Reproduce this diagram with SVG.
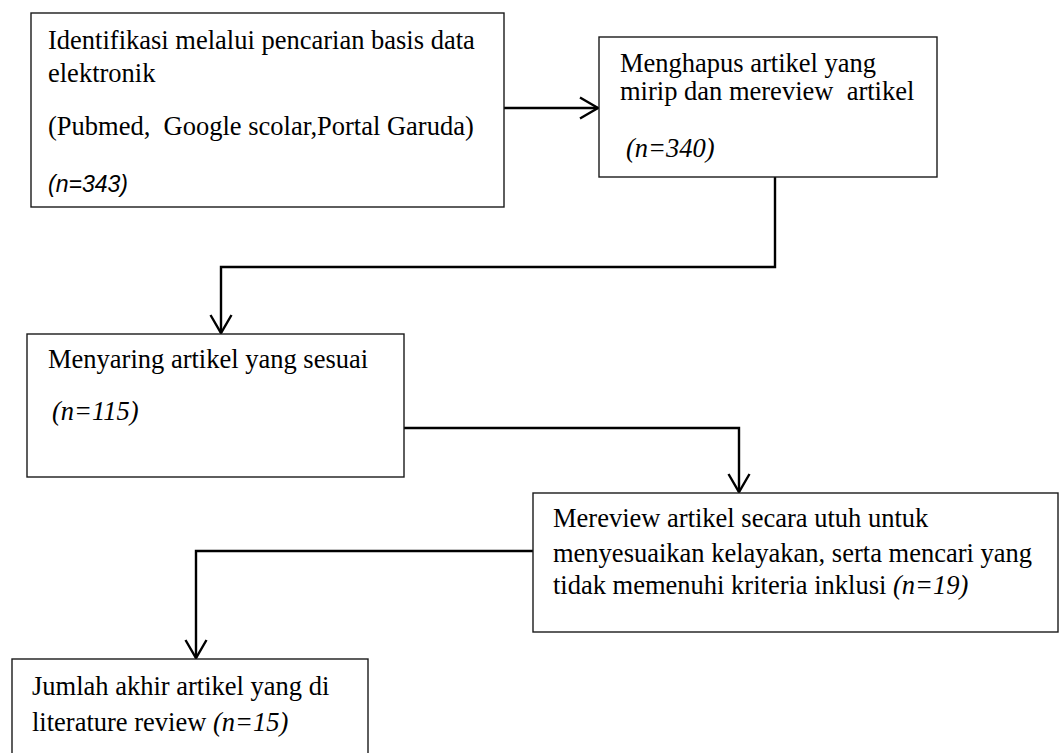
<svg xmlns="http://www.w3.org/2000/svg" width="1059" height="753" viewBox="0 0 1059 753">
<defs>
<style>
.box{fill:#fff;stroke:#1a1a1a;stroke-width:1.4}
.t{font-family:"Liberation Serif","Times New Roman",serif;font-size:26.5px;fill:#000}
.i{font-style:italic}
.c{font-family:"Liberation Sans",Arial,sans-serif;font-style:italic;font-size:23px;fill:#000}
.conn{fill:none;stroke:#000;stroke-width:2.4}
</style>
<marker id="arr" markerUnits="userSpaceOnUse" markerWidth="24" markerHeight="26" viewBox="-20 -13 22 26" refX="0" refY="0" orient="auto">
<path d="M-18,-10.5 L0,0 L-18,10.5" fill="none" stroke="#000" stroke-width="2.4"/>
</marker>
</defs>
<rect width="1059" height="753" fill="#fff"/>
<g id="connectors">
<path class="conn" d="M504,108 H598" marker-end="url(#arr)"/>
<path class="conn" d="M775,177 V267 H221 V333" marker-end="url(#arr)"/>
<path class="conn" d="M404,428 H739 V492" marker-end="url(#arr)"/>
<path class="conn" d="M533,551 H196 V658" marker-end="url(#arr)"/>
</g>
<g id="node1">
<rect class="box" x="31" y="13" width="473" height="194"/>
<text class="t" x="48" y="49">Identifikasi melalui pencarian basis data</text>
<text class="t" x="48" y="82">elektronik</text>
<text class="t" x="48" y="135" xml:space="preserve">(Pubmed,  Google scolar,Portal Garuda)</text>
<text class="c" x="48" y="192">(n=343)</text>
</g>
<g id="node2">
<rect class="box" x="599" y="37" width="338" height="140"/>
<text class="t" x="620" y="72">Menghapus artikel yang</text>
<text class="t" x="620" y="100" xml:space="preserve">mirip dan mereview  artikel</text>
<text class="t i" x="626" y="157">(n=340)</text>
</g>
<g id="node3">
<rect class="box" x="27" y="334" width="377" height="143"/>
<text class="t" x="48" y="368">Menyaring artikel yang sesuai</text>
<text class="t i" x="52" y="420">(n=115)</text>
</g>
<g id="node4">
<rect class="box" x="533" y="493" width="525" height="139"/>
<text class="t" x="553" y="527">Mereview artikel secara utuh untuk</text>
<text class="t" x="553" y="562">menyesuaikan kelayakan, serta mencari yang</text>
<text class="t" x="553" y="594">tidak memenuhi kriteria inklusi <tspan class="i">(n=19)</tspan></text>
</g>
<g id="node5">
<rect class="box" x="12" y="659" width="356" height="110"/>
<text class="t" x="32" y="695">Jumlah akhir artikel yang di</text>
<text class="t" x="32" y="731">literature review <tspan class="i">(n=15)</tspan></text>
</g>
</svg>
